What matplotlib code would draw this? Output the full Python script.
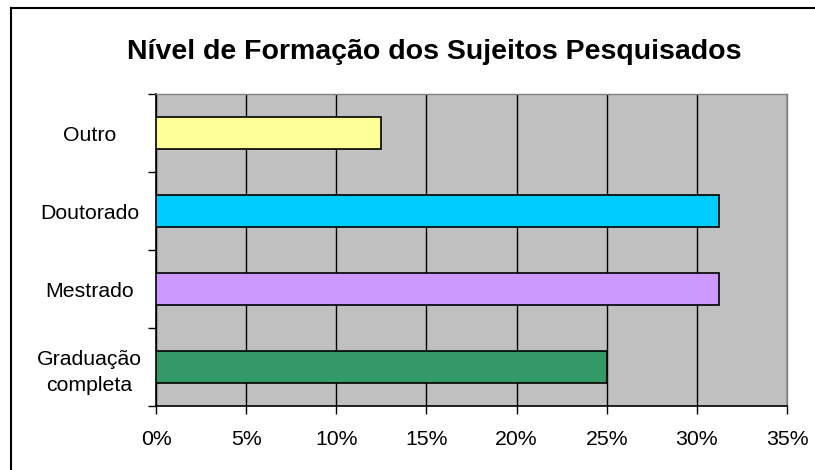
import matplotlib
matplotlib.use("Agg")
import matplotlib.pyplot as plt
from matplotlib.ticker import FuncFormatter, FixedLocator
from matplotlib.lines import Line2D

categories = ["Graduação\ncompleta", "Mestrado", "Doutorado", "Outro"]
values = [25.0, 31.25, 31.25, 12.5]
colors = ["#339966", "#CC99FF", "#00CCFF", "#FFFF99"]
xticks = [0, 5, 10, 15, 20, 25, 30, 35]
title = "Nível de Formação dos Sujeitos Pesquisados"

plt.rcParams['font.family'] = ['Liberation Sans', 'DejaVu Sans']

fig = plt.figure(figsize=(8.15, 4.70), dpi=100)
ax = fig.add_axes([156/815, 1-406/470, (787-156)/815, (406-94)/470])
ax.set_facecolor("#C0C0C0")

y = list(range(len(categories)))
ax.barh(y, values, height=0.41, color=colors, edgecolor="black", linewidth=1.2, zorder=3)

ax.set_xlim(0, 35)
ax.set_ylim(-0.5, len(categories) - 0.5)
ax.xaxis.set_major_locator(FixedLocator(xticks))
ax.xaxis.set_major_formatter(FuncFormatter(lambda v, p: f"{v:.0f}%"))
ax.grid(axis="x", color="black", linewidth=1.0, zorder=1)

ax.set_yticks([i - 0.5 for i in range(len(categories) + 1)])
ax.set_yticklabels([])
ax.set_yticks(y, minor=True)
ax.set_yticklabels(categories, minor=True, fontsize=15.3, ha="center", linespacing=1.45)
ax.tick_params(axis="y", which="minor", length=0, pad=48)
ax.tick_params(axis="y", which="major", length=6, width=1, direction="out")
ax.tick_params(axis="x", length=6, width=1, direction="out", labelsize=15.3, pad=11)

for s in ["left", "bottom"]:
    ax.spines[s].set_color("black")
    ax.spines[s].set_linewidth(1.2)
for s in ["right", "top"]:
    ax.spines[s].set_color("#808080")
    ax.spines[s].set_linewidth(1.0)

fig.text(434/815, 1-52/470, title, ha="center", va="center", fontsize=20.5, fontweight="bold")

fig.add_artist(Line2D([11/815, 11/815], [0, 1-8/470], color="black", linewidth=1.5, transform=fig.transFigure))
fig.add_artist(Line2D([11/815, 1], [1-8/470, 1-8/470], color="black", linewidth=1.5, transform=fig.transFigure))

fig.savefig("out.png", dpi=100)
